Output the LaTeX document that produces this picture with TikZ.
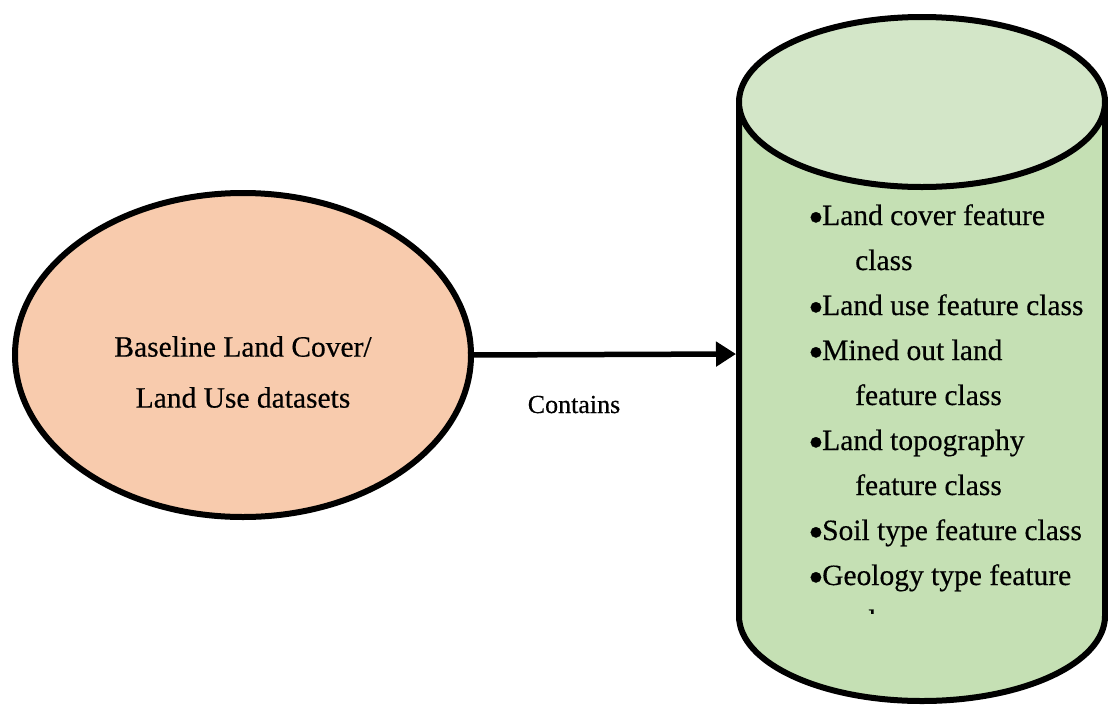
\documentclass[tikz,border=0pt]{standalone}
\usepackage{fontspec}
\usepackage{graphicx}
\setmainfont[FakeBold=0.4]{Liberation Serif}
\usetikzlibrary{arrows.meta,shapes.geometric}
\definecolor{peach}{HTML}{F8CBAD}
\definecolor{cylbody}{HTML}{C5E0B4}
\definecolor{cyltop}{HTML}{D3E6C8}
% enlarged list bullet
\newcommand\dbbullet{\makebox[14pt][l]{\raisebox{-7pt}{\scalebox{1.5}{•}}}}
\tikzset{
  outline/.style={draw=black, line width=6pt},
  srcshape/.style={outline, ellipse, fill=peach, minimum width=456pt, minimum height=324pt, inner sep=0pt},
  lbl/.style={font=\fontsize{29.5}{51}\selectfont, inner sep=0pt},
  item/.style={lbl, anchor=base west},
  conn/.style={line width=5.5pt, -{Triangle[length=20pt,width=24pt]}},
}
\begin{document}
\begin{tikzpicture}[x=1pt, y=-1pt]
\useasboundingbox (0,0) rectangle (1108,705);

% source dataset ellipse
\node[srcshape] (src) at (243,355) {};
\node[lbl, align=center] (srctext) at (243,372) {Baseline Land Cover/\\Land Use datasets};

% database cylinder: body, bottom arc, top cap
\fill[cylbody] (739,102) -- (739,616) arc[start angle=180, end angle=0, x radius=183, y radius=85] -- (1105,102) -- cycle;
\draw[line width=6pt] (739,102) -- (739,616) arc[start angle=180, end angle=0, x radius=183, y radius=85] -- (1105,102);
\draw[outline, fill=cyltop] (922,102) ellipse [x radius=183, y radius=85];
\coordinate (db) at (736,354);

% contents of the database
\begin{scope}
\clip (742,190) rectangle (1102,613);
\node[item] (i1)  at (808,225) {\dbbullet Land cover feature};
\node[item] (i1b) at (855,270) {class};
\node[item] (i2)  at (808,315) {\dbbullet Land use feature class};
\node[item] (i3)  at (808,360) {\dbbullet Mined out land};
\node[item] (i3b) at (855,405) {feature class};
\node[item] (i4)  at (808,450) {\dbbullet Land topography};
\node[item] (i4b) at (855,495) {feature class};
\node[item] (i5)  at (808,540) {\dbbullet Soil type feature class};
\node[item] (i6)  at (808,585) {\dbbullet Geology type feature};
\node[item] (i6b) at (855,630) {class};
\end{scope}

% relation
\draw[conn] (src.east) ++(-6,0) coordinate (from) (from) -- (db);
\node[font=\fontsize{26}{30}\selectfont, inner sep=0pt, anchor=base] (rel) at (574,413) {Contains};
\end{tikzpicture}
\end{document}
